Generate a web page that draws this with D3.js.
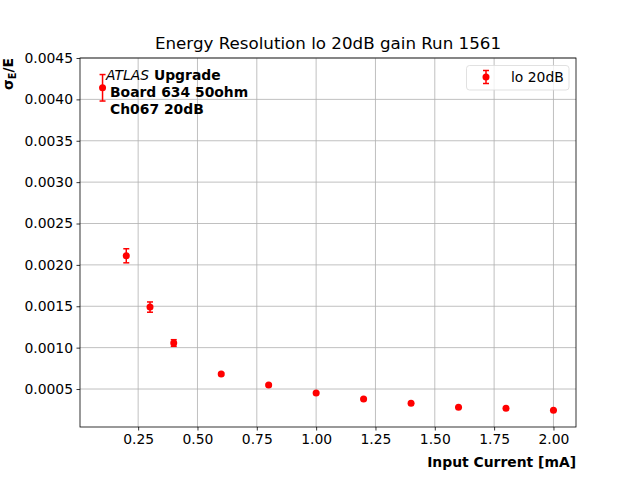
<!DOCTYPE html>
<meta charset="utf-8">
<script src="https://d3js.org/d3.v7.min.js"></script>
<style>
  body { margin: 0; background: #fff; }
  text { font-family: "DejaVu Sans", sans-serif; }
</style>
<div id="chart"></div>
<script>
  // Data
  const current = [0.1, 0.2, 0.3, 0.4, 0.6, 0.8, 1.0, 1.2, 1.4, 1.6, 1.8, 2.0];
  const resolution = [0.00414, 0.00211, 0.00149, 0.001056, 0.000681, 0.000548,
                      0.000452, 0.000379, 0.000327, 0.000279, 0.000267, 0.000243];
  const resErr = [0.00016, 0.000085, 0.000062, 0.000040, 0.000012, 0.000009,
                  0.000007, 0.000006, 0.000005, 0.000005, 0.000004, 0.000004];
  const xTicks = [0.25, 0.5, 0.75, 1.0, 1.25, 1.5, 1.75, 2.0];
  const yTicks = [0.0005, 0.001, 0.0015, 0.002, 0.0025, 0.003, 0.0035, 0.004, 0.0045];

  const width = 640, height = 480;
  const margin = {top: 58, right: 64, bottom: 53, left: 80};
  const red = "#ff0000";

  const svg = d3.select("#chart")
    .append("svg")
      .attr("width", width)
      .attr("height", height);

  const x = d3.scaleLinear()
    .domain([0.005, 2.095])
    .range([margin.left, width - margin.right]);

  const y = d3.scaleLinear()
    .domain([0.000041, 0.0045])
    .range([height - margin.bottom, margin.top]);

  // Grid
  svg.append("g")
    .selectAll("line")
    .data(xTicks)
    .join("line")
      .attr("x1", d => x(d)).attr("x2", d => x(d))
      .attr("y1", margin.top).attr("y2", height - margin.bottom)
      .attr("stroke", "#b0b0b0").attr("stroke-width", 0.8);

  svg.append("g")
    .selectAll("line")
    .data(yTicks)
    .join("line")
      .attr("x1", margin.left).attr("x2", width - margin.right)
      .attr("y1", d => y(d)).attr("y2", d => y(d))
      .attr("stroke", "#b0b0b0").attr("stroke-width", 0.8);

  // Axes
  const xAxis = svg.append("g")
    .attr("transform", `translate(0,${height - margin.bottom})`)
    .call(d3.axisBottom(x).tickValues(xTicks).tickFormat(d3.format(".2f")).tickSize(3.5).tickPadding(3.5));

  const yAxis = svg.append("g")
    .attr("transform", `translate(${margin.left},0)`)
    .call(d3.axisLeft(y).tickValues(yTicks).tickFormat(d3.format(".4f")).tickSize(3.5).tickPadding(3.5));

  [xAxis, yAxis].forEach(a => {
    a.select(".domain").remove();
    a.attr("font-family", null).attr("font-size", null);
    a.selectAll("text").attr("font-size", 13.9).attr("fill", "#000")
      .attr("font-weight", "normal");
    a.selectAll("line").attr("stroke", "#000").attr("stroke-width", 0.8);
  });

  // Frame
  svg.append("rect")
    .attr("x", margin.left).attr("y", margin.top)
    .attr("width", width - margin.left - margin.right)
    .attr("height", height - margin.top - margin.bottom)
    .attr("fill", "none").attr("stroke", "#000").attr("stroke-width", 0.8);

  // Error bars and markers
  const pts = current.map((c, i) => ({x: c, y: resolution[i], e: resErr[i]}));
  const g = svg.append("g");

  g.selectAll(".err")
    .data(pts)
    .join("line")
      .attr("x1", d => x(d.x)).attr("x2", d => x(d.x))
      .attr("y1", d => y(d.y - d.e)).attr("y2", d => y(d.y + d.e))
      .attr("stroke", red).attr("stroke-width", 1.5);

  ["cap-lo", "cap-hi"].forEach((cls, k) => {
    g.selectAll("." + cls)
      .data(pts)
      .join("line")
        .attr("x1", d => x(d.x) - 3).attr("x2", d => x(d.x) + 3)
        .attr("y1", d => y(k ? d.y + d.e : d.y - d.e))
        .attr("y2", d => y(k ? d.y + d.e : d.y - d.e))
        .attr("stroke", red).attr("stroke-width", 1.5);
  });

  g.selectAll("circle")
    .data(pts)
    .join("circle")
      .attr("cx", d => x(d.x)).attr("cy", d => y(d.y))
      .attr("r", 3.5).attr("fill", red);

  // Title
  svg.append("text")
    .attr("x", (margin.left + width - margin.right) / 2)
    .attr("y", 49)
    .attr("text-anchor", "middle")
    .attr("font-size", 16.7)
    .text("Energy Resolution lo 20dB gain Run 1561");

  // Axis labels
  svg.append("text")
    .attr("x", width - margin.right)
    .attr("y", 467)
    .attr("text-anchor", "end")
    .attr("font-size", 13.9)
    .attr("font-weight", "bold")
    .text("Input Current [mA]");

  const yl = svg.append("text")
    .attr("transform", `translate(12.5,${margin.top}) rotate(-90)`)
    .attr("text-anchor", "end")
    .attr("font-size", 13.9)
    .attr("font-weight", "bold");
  yl.append("tspan").text("σ");
  yl.append("tspan").attr("font-size", 9.7).attr("dy", 3).text("E");
  yl.append("tspan").attr("dy", -3).text("/E");

  // Annotation
  const ann = svg.append("text")
    .attr("x", 106).attr("y", 80)
    .attr("font-size", 13.9);
  ann.append("tspan").attr("font-style", "italic").text("ATLAS");
  ann.append("tspan").attr("font-weight", "bold").text(" Upgrade");

  svg.append("text")
    .attr("x", 110).attr("y", 97)
    .attr("font-size", 13.9).attr("font-weight", "bold")
    .text("Board 634 50ohm");

  svg.append("text")
    .attr("x", 110).attr("y", 114)
    .attr("font-size", 13.9).attr("font-weight", "bold")
    .text("Ch067 20dB");

  // Legend
  const lg = svg.append("g");
  lg.append("rect")
    .attr("x", 466.5).attr("y", 65.5)
    .attr("width", 102.5).attr("height", 24.5)
    .attr("rx", 3)
    .attr("fill", "#fff").attr("fill-opacity", 0.8)
    .attr("stroke", "#d9d9d9").attr("stroke-width", 0.8);
  const lx = 486, ly = 77;
  lg.append("line").attr("x1", lx).attr("x2", lx).attr("y1", ly - 6.5).attr("y2", ly + 6.5)
    .attr("stroke", red).attr("stroke-width", 1.5);
  [ly - 6.5, ly + 6.5].forEach(v => lg.append("line")
    .attr("x1", lx - 3).attr("x2", lx + 3).attr("y1", v).attr("y2", v)
    .attr("stroke", red).attr("stroke-width", 1.5));
  lg.append("circle").attr("cx", lx).attr("cy", ly).attr("r", 3.5).attr("fill", red);
  lg.append("text")
    .attr("x", 511).attr("y", 82)
    .attr("font-size", 13.9)
    .text("lo 20dB");
</script>
